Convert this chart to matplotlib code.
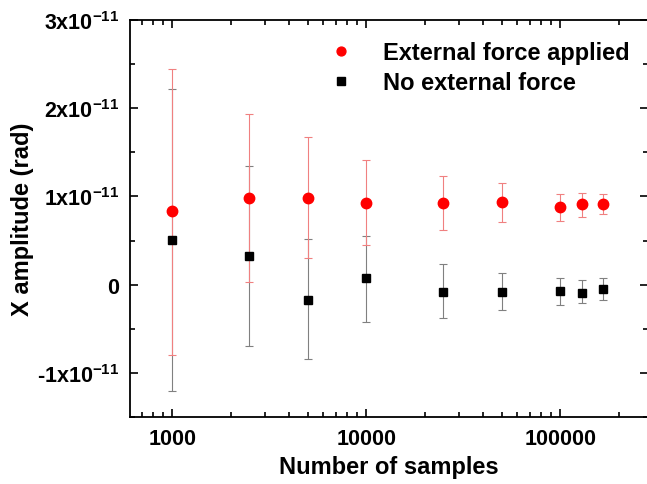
import numpy as np
import matplotlib
matplotlib.use("Agg")
import matplotlib.pyplot as plt
from matplotlib.ticker import FixedLocator, FixedFormatter, LogLocator, NullFormatter

plt.rcParams['font.family'] = ['Liberation Sans', 'DejaVu Sans']
plt.rcParams['mathtext.fontset'] = 'custom'
plt.rcParams['mathtext.rm'] = 'Liberation Sans'
plt.rcParams['mathtext.bf'] = 'Liberation Sans:bold'

# data, amplitudes in units of 1e-11 rad
samples = [1000, 2500, 5000, 10000, 25000, 50000, 100000, 130000, 165000]

force_val = [0.83, 0.98, 0.98, 0.93, 0.93, 0.94, 0.88, 0.91, 0.91]
force_hi = [2.44, 1.93, 1.67, 1.41, 1.23, 1.15, 1.03, 1.04, 1.03]
force_lo = [-0.80, 0.03, 0.30, 0.45, 0.62, 0.71, 0.72, 0.77, 0.80]

noforce_val = [0.51, 0.33, -0.17, 0.07, -0.08, -0.08, -0.07, -0.09, -0.05]
noforce_hi = [2.22, 1.35, 0.52, 0.55, 0.23, 0.13, 0.08, 0.05, 0.07]
noforce_lo = [-1.21, -0.69, -0.84, -0.42, -0.38, -0.29, -0.23, -0.21, -0.17]

ytick_vals = [-1e-11, 0, 1e-11, 2e-11, 3e-11]
ytick_labels = [r'-1x10$^{\mathbf{-11}}$', '0', r'1x10$^{\mathbf{-11}}$',
                r'2x10$^{\mathbf{-11}}$', r'3x10$^{\mathbf{-11}}$']

scale = 1e-11
x = np.array(samples)
fv = np.array(force_val) * scale
f_err = [fv - np.array(force_lo) * scale, np.array(force_hi) * scale - fv]
nv = np.array(noforce_val) * scale
n_err = [nv - np.array(noforce_lo) * scale, np.array(noforce_hi) * scale - nv]

fig = plt.figure(figsize=(6.47, 4.85), dpi=100)
ax = fig.add_axes([0.201, 0.138, 0.801, 0.819])

ax.errorbar(x, nv, yerr=n_err, fmt='none', ecolor='#808080', elinewidth=0.8,
            capsize=3, capthick=0.8, zorder=2)
ax.errorbar(x, fv, yerr=f_err, fmt='none', ecolor='#f08080', elinewidth=0.8,
            capsize=3, capthick=0.8, zorder=2)
ax.plot(x, fv, 'o', color='#ff0000', markersize=7.5, label='External force applied', zorder=3)
ax.plot(x, nv, 's', color='black', markersize=6, label='No external force', zorder=3)

ax.set_xscale('log')
ax.set_xlim(607, 284000)
ax.set_ylim(-1.5e-11, 3e-11)

ax.yaxis.set_major_locator(FixedLocator(ytick_vals))
ax.yaxis.set_major_formatter(FixedFormatter(ytick_labels))
ax.yaxis.set_minor_locator(FixedLocator(np.arange(-1.5e-11, 3.01e-11, 0.5e-11)))
ax.xaxis.set_minor_locator(LogLocator(base=10, subs=np.arange(2, 10), numticks=20))
ax.xaxis.set_minor_formatter(NullFormatter())
ax.set_xticks([1000, 10000, 100000])
ax.set_xticklabels(['1000', '10000', '100000'])

ax.tick_params(which='both', direction='in', top=True, right=True, width=1.2)
ax.tick_params(which='major', length=6, labelsize=15.5, pad=8)
ax.tick_params(which='minor', length=3.5)
for lab in ax.get_xticklabels() + ax.get_yticklabels():
    lab.set_fontweight('bold')
for sp in ax.spines.values():
    sp.set_linewidth(1.3)

ax.set_xlabel('Number of samples', fontsize=17, fontweight='bold', labelpad=4)
ax.set_ylabel('X amplitude (rad)', fontsize=17, fontweight='bold', labelpad=2)

leg = ax.legend(loc='upper right', bbox_to_anchor=(1.005, 1.0), frameon=False,
                prop={'size': 17, 'weight': 'bold'}, handletextpad=0.8,
                labelspacing=0.3, markerscale=0.85)

fig.savefig('out.png', dpi=100)
